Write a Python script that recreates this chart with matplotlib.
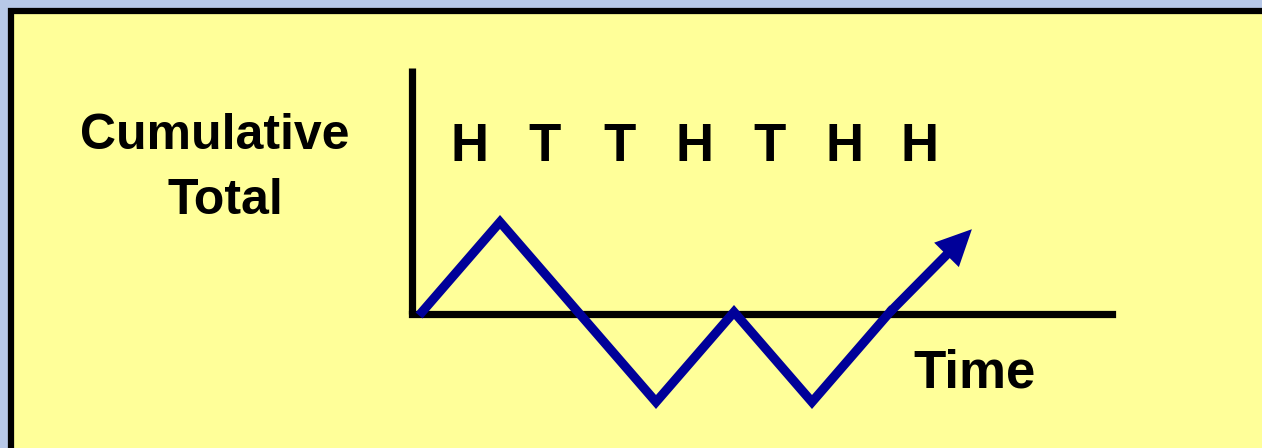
import matplotlib.pyplot as plt
from matplotlib.patches import Rectangle

# coin tosses and the running total they give
tosses = ['H', 'T', 'T', 'H', 'T', 'H', 'H']
steps = [1 if t == 'H' else -1 for t in tosses]
totals = [0]
for s in steps:
    totals.append(totals[-1] + s)
times = list(range(len(totals)))

yellow = '#FFFF99'
blue = '#000099'

fig = plt.figure(figsize=(12.62, 4.48), dpi=100)
fig.patch.set_facecolor('#B7C8E8')

# background: yellow panel with black frame, in pixel coords
bg = fig.add_axes([0, 0, 1, 1])
bg.set_xlim(0, 1262)
bg.set_ylim(448, 0)
bg.axis('off')
bg.add_patch(Rectangle((11, 11), 1400, 600, facecolor=yellow,
                       edgecolor='black', linewidth=4.5))

font = dict(family=['Liberation Sans', 'DejaVu Sans'], fontweight='bold',
            fontsize=38, color='black')
label_font = dict(font, fontsize=36)
bg.text(215, 149, 'Cumulative', ha='center', va='baseline', **label_font)
bg.text(225, 214, 'Total', ha='center', va='baseline', **label_font)
bg.text(975, 387, 'Time', ha='center', va='baseline', **font)

# data axes: step i -> x pixel 422 + 78 i, value v -> y pixel 312 - 90 v
px0, px1 = 412, 1112
py_top, py_bot = 68, 448
x_lo = (px0 - 422) / 78
x_hi = (px1 - 422) / 78
y_hi = (312 - py_top) / 90
y_lo = (312 - py_bot) / 90
ax = fig.add_axes([px0 / 1262, (448 - py_bot) / 448, (px1 - px0) / 1262,
                   (py_bot - py_top) / 448])
ax.set_xlim(x_lo, x_hi)
ax.set_ylim(y_lo, y_hi)
ax.axis('off')

# axis lines
y_axis = (312 - 314) / 90
ax.plot([x_lo, x_lo], [y_axis, y_hi], color='black', lw=5.2,
        solid_capstyle='butt', clip_on=False)
ax.plot([x_lo, x_hi], [y_axis, y_axis], color='black', lw=5.2,
        solid_capstyle='projecting', clip_on=False)

# toss labels between steps
for i, t in enumerate(tosses):
    ax.text((470 - 422) / 78 + i * 74.9 / 78, (312 - 160.7) / 90, t,
            ha='center', va='baseline', **font)

# walk with arrow on the last step
ax.plot(times[:-1], totals[:-1], color=blue, lw=6.6, solid_joinstyle='miter',
        clip_on=False)
ax.annotate('', xy=(times[-1] + 0.05, totals[-1] - 0.08),
            xytext=(times[-2], totals[-2]),
            arrowprops=dict(width=6.6, headwidth=25, headlength=26,
                            color=blue, lw=0, shrink=0))

plt.savefig('out.png', dpi=100, facecolor=fig.get_facecolor())
